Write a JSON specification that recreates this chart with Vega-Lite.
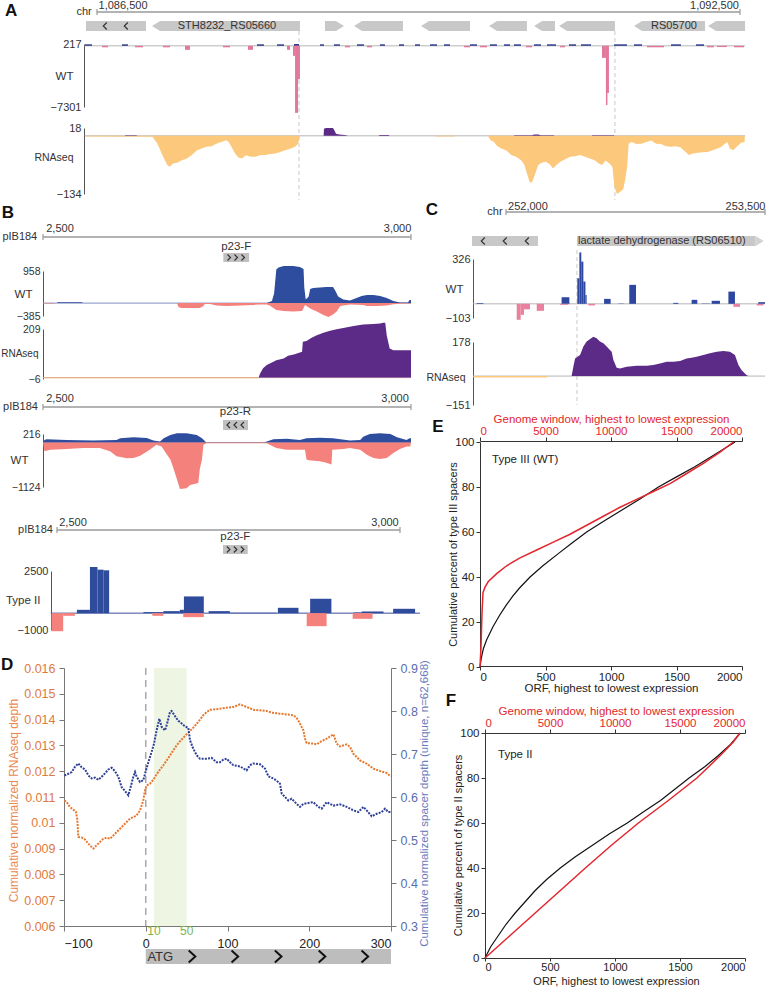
{
"$schema":"https://vega.github.io/schema/vega-lite/v6.json",
"width":771,"height":987,"autosize":"none","padding":0,"background":"white",
"config":{"view":{"stroke":null},"font":"Liberation Sans","axis":{"grid":false,"labelFont":"Liberation Sans","titleFont":"Liberation Sans","titleFontWeight":"normal","labelColor":"#222","titleColor":"#222","domainColor":"#555","tickColor":"#555"},"text":{"font":"Liberation Sans"}},
"resolve":{"scale":{"x":"independent","y":"independent","color":"independent"},"axis":{"x":"independent","y":"independent"}},
"datasets":{
"aGenes":[{"p":1086397,"e":1086957,"strand":"."},{"p":1087088,"e":1088394,"strand":"-"},{"p":1088627,"e":1088730,"strand":"+"},{"p":1088973,"e":1089355,"strand":"-"},{"p":1089598,"e":1089981,"strand":"-"},{"p":1090233,"e":1090512,"strand":"-"},{"p":1090653,"e":1090774,"strand":"-"},{"p":1090886,"e":1091333,"strand":"-"},{"p":1091586,"e":1092174,"strand":"-"},{"p":1092277,"e":1092547,"strand":"-"}],
"aWT":[{"p":1086388,"e":1086453,"v":180,"c":"n"},{"p":1086733,"e":1086789,"v":180,"c":"n"},{"p":1087993,"e":1088058,"v":180,"c":"n"},{"p":1088180,"e":1088245,"v":180,"c":"n"},{"p":1088581,"e":1088618,"v":180,"c":"n"},{"p":1088711,"e":1088767,"v":180,"c":"n"},{"p":1088926,"e":1088991,"v":180,"c":"n"},{"p":1089140,"e":1089187,"v":180,"c":"n"},{"p":1089318,"e":1089365,"v":180,"c":"n"},{"p":1089467,"e":1089514,"v":180,"c":"n"},{"p":1089607,"e":1089673,"v":180,"c":"n"},{"p":1089738,"e":1089794,"v":180,"c":"n"},{"p":1089980,"e":1090046,"v":180,"c":"n"},{"p":1090167,"e":1090232,"v":180,"c":"n"},{"p":1090298,"e":1090354,"v":180,"c":"n"},{"p":1090391,"e":1090456,"v":180,"c":"n"},{"p":1090578,"e":1090643,"v":180,"c":"n"},{"p":1090699,"e":1090783,"v":180,"c":"n"},{"p":1090904,"e":1090970,"v":180,"c":"n"},{"p":1091016,"e":1091110,"v":180,"c":"n"},{"p":1091324,"e":1091445,"v":180,"c":"n"},{"p":1091511,"e":1091586,"v":180,"c":"n"},{"p":1091856,"e":1091949,"v":180,"c":"n"},{"p":1092089,"e":1092164,"v":180,"c":"n"},{"p":1088338,"e":1088385,"v":217,"c":"n"},{"p":1086547,"e":1086603,"v":-180,"c":"p"},{"p":1086855,"e":1086929,"v":-180,"c":"p"},{"p":1087116,"e":1087181,"v":-180,"c":"p"},{"p":1087676,"e":1087741,"v":-180,"c":"p"},{"p":1088814,"e":1088861,"v":-180,"c":"p"},{"p":1089019,"e":1089066,"v":-180,"c":"p"},{"p":1089924,"e":1089980,"v":-180,"c":"p"},{"p":1090074,"e":1090139,"v":-180,"c":"p"},{"p":1090503,"e":1090559,"v":-180,"c":"p"},{"p":1090820,"e":1090867,"v":-180,"c":"p"},{"p":1091632,"e":1091791,"v":-180,"c":"p"},{"p":1092192,"e":1092257,"v":-180,"c":"p"},{"p":1092444,"e":1092537,"v":-180,"c":"p"},{"p":1087321,"e":1087368,"v":-480,"c":"p"},{"p":1087909,"e":1087956,"v":-480,"c":"p"},{"p":1088273,"e":1088301,"v":-480,"c":"p"},{"p":1088329,"e":1088348,"v":-1200,"c":"p"},{"p":1088348,"e":1088376,"v":-8000,"c":"p"},{"p":1088376,"e":1088394,"v":-4000,"c":"p"},{"p":1091212,"e":1091249,"v":-1435,"c":"p"},{"p":1091249,"e":1091277,"v":-5620,"c":"p"},{"p":1091249,"e":1091263,"v":-7060,"c":"p"},{"p":1092285,"e":1092379,"v":-150,"c":"p"}],
"aRNAneg":[{"p":1086390,"v":0,"seg":"a"},{"p":1086392,"v":-1.5,"seg":"a"},{"p":1087000,"v":-2,"seg":"a"},{"p":1087018,"v":-2,"seg":"a"},{"p":1087064,"v":-18,"seg":"a"},{"p":1087110,"v":-44,"seg":"a"},{"p":1087155,"v":-67,"seg":"a"},{"p":1087178,"v":-71,"seg":"a"},{"p":1087210,"v":-64,"seg":"a"},{"p":1087247,"v":-62,"seg":"a"},{"p":1087293,"v":-56,"seg":"a"},{"p":1087339,"v":-52,"seg":"a"},{"p":1087385,"v":-44,"seg":"a"},{"p":1087431,"v":-34,"seg":"a"},{"p":1087476,"v":-29,"seg":"a"},{"p":1087522,"v":-25,"seg":"a"},{"p":1087568,"v":-24,"seg":"a"},{"p":1087614,"v":-18,"seg":"a"},{"p":1087660,"v":-14,"seg":"a"},{"p":1087706,"v":-10,"seg":"a"},{"p":1087729,"v":-14,"seg":"a"},{"p":1087752,"v":-24,"seg":"a"},{"p":1087788,"v":-41,"seg":"a"},{"p":1087820,"v":-50,"seg":"a"},{"p":1087852,"v":-52,"seg":"a"},{"p":1087889,"v":-45,"seg":"a"},{"p":1087935,"v":-48,"seg":"a"},{"p":1087981,"v":-48,"seg":"a"},{"p":1088027,"v":-44,"seg":"a"},{"p":1088073,"v":-44,"seg":"a"},{"p":1088118,"v":-42,"seg":"a"},{"p":1088164,"v":-41,"seg":"a"},{"p":1088210,"v":-37,"seg":"a"},{"p":1088256,"v":-33,"seg":"a"},{"p":1088302,"v":-30,"seg":"a"},{"p":1088348,"v":-25,"seg":"a"},{"p":1088375,"v":-19,"seg":"a"},{"p":1088389,"v":-5,"seg":"a"},{"p":1088393,"v":0,"seg":"a"},{"p":1089654,"v":0,"seg":"b"},{"p":1089656,"v":-1.5,"seg":"b"},{"p":1089837,"v":-1.5,"seg":"b"},{"p":1089840,"v":0,"seg":"b"},{"p":1090149,"v":0,"seg":"c"},{"p":1090172,"v":-10,"seg":"c"},{"p":1090204,"v":-14,"seg":"c"},{"p":1090236,"v":-24,"seg":"c"},{"p":1090273,"v":-29,"seg":"c"},{"p":1090319,"v":-34,"seg":"c"},{"p":1090365,"v":-44,"seg":"c"},{"p":1090411,"v":-48,"seg":"c"},{"p":1090457,"v":-56,"seg":"c"},{"p":1090484,"v":-65,"seg":"c"},{"p":1090512,"v":-87,"seg":"c"},{"p":1090539,"v":-108,"seg":"c"},{"p":1090562,"v":-106,"seg":"c"},{"p":1090585,"v":-90,"seg":"c"},{"p":1090617,"v":-67,"seg":"c"},{"p":1090649,"v":-62,"seg":"c"},{"p":1090686,"v":-60,"seg":"c"},{"p":1090722,"v":-65,"seg":"c"},{"p":1090755,"v":-75,"seg":"c"},{"p":1090787,"v":-67,"seg":"c"},{"p":1090823,"v":-60,"seg":"c"},{"p":1090869,"v":-54,"seg":"c"},{"p":1090915,"v":-48,"seg":"c"},{"p":1090961,"v":-47,"seg":"c"},{"p":1091007,"v":-44,"seg":"c"},{"p":1091053,"v":-48,"seg":"c"},{"p":1091099,"v":-52,"seg":"c"},{"p":1091144,"v":-56,"seg":"c"},{"p":1091181,"v":-64,"seg":"c"},{"p":1091213,"v":-67,"seg":"c"},{"p":1091245,"v":-57,"seg":"c"},{"p":1091282,"v":-64,"seg":"c"},{"p":1091309,"v":-71,"seg":"c"},{"p":1091328,"v":-117,"seg":"c"},{"p":1091351,"v":-134,"seg":"c"},{"p":1091383,"v":-129,"seg":"c"},{"p":1091410,"v":-123,"seg":"c"},{"p":1091428,"v":-102,"seg":"c"},{"p":1091447,"v":-71,"seg":"c"},{"p":1091461,"v":-18,"seg":"c"},{"p":1091488,"v":-14,"seg":"c"},{"p":1091534,"v":-19,"seg":"c"},{"p":1091580,"v":-18,"seg":"c"},{"p":1091626,"v":-14,"seg":"c"},{"p":1091672,"v":-11,"seg":"c"},{"p":1091717,"v":-18,"seg":"c"},{"p":1091763,"v":-19,"seg":"c"},{"p":1091809,"v":-24,"seg":"c"},{"p":1091855,"v":-25,"seg":"c"},{"p":1091901,"v":-24,"seg":"c"},{"p":1091947,"v":-27,"seg":"c"},{"p":1091993,"v":-37,"seg":"c"},{"p":1092025,"v":-44,"seg":"c"},{"p":1092061,"v":-41,"seg":"c"},{"p":1092107,"v":-39,"seg":"c"},{"p":1092153,"v":-38,"seg":"c"},{"p":1092199,"v":-37,"seg":"c"},{"p":1092245,"v":-33,"seg":"c"},{"p":1092290,"v":-29,"seg":"c"},{"p":1092327,"v":-25,"seg":"c"},{"p":1092359,"v":-18,"seg":"c"},{"p":1092382,"v":-14,"seg":"c"},{"p":1092405,"v":-29,"seg":"c"},{"p":1092437,"v":-33,"seg":"c"},{"p":1092474,"v":-24,"seg":"c"},{"p":1092510,"v":-16,"seg":"c"},{"p":1092543,"v":-14,"seg":"c"},{"p":1092545,"v":0,"seg":"c"}],
"aRNApos":[{"p":1086761,"v":0,"seg":"a"},{"p":1086763,"v":1.5,"seg":"a"},{"p":1086871,"v":1.5,"seg":"a"},{"p":1086873,"v":0,"seg":"a"},{"p":1088615,"v":0,"seg":"b"},{"p":1088618,"v":16,"seg":"b"},{"p":1088637,"v":18,"seg":"b"},{"p":1088702,"v":18,"seg":"b"},{"p":1088716,"v":12,"seg":"b"},{"p":1088730,"v":5,"seg":"b"},{"p":1088760,"v":3,"seg":"b"},{"p":1088814,"v":2,"seg":"b"},{"p":1088842,"v":0,"seg":"b"},{"p":1089131,"v":0,"seg":"c"},{"p":1089135,"v":2,"seg":"c"},{"p":1089224,"v":2,"seg":"c"},{"p":1089228,"v":0,"seg":"c"},{"p":1090391,"v":0,"seg":"d"},{"p":1090393,"v":1.5,"seg":"d"},{"p":1090560,"v":1.5,"seg":"d"},{"p":1090578,"v":3,"seg":"d"},{"p":1090620,"v":3,"seg":"d"},{"p":1090640,"v":1.5,"seg":"d"},{"p":1090764,"v":1.5,"seg":"d"},{"p":1090766,"v":0,"seg":"d"},{"p":1091119,"v":0,"seg":"e"},{"p":1091121,"v":1.5,"seg":"e"},{"p":1091324,"v":1.5,"seg":"e"},{"p":1091326,"v":0,"seg":"e"}],
"b1Blue":[{"p":2500,"v":0},{"p":2519,"v":0},{"p":2520,"v":25},{"p":2553,"v":25},{"p":2554,"v":0},{"p":2804,"v":0},{"p":2811,"v":63},{"p":2814,"v":286},{"p":2817,"v":1003},{"p":2820,"v":1065},{"p":2827,"v":1110},{"p":2840,"v":1110},{"p":2849,"v":1074},{"p":2854,"v":1020},{"p":2855,"v":465},{"p":2857,"v":107},{"p":2861,"v":197},{"p":2863,"v":420},{"p":2867,"v":448},{"p":2876,"v":465},{"p":2885,"v":483},{"p":2894,"v":483},{"p":2897,"v":376},{"p":2901,"v":197},{"p":2908,"v":107},{"p":2917,"v":80},{"p":2926,"v":152},{"p":2933,"v":215},{"p":2940,"v":242},{"p":2949,"v":242},{"p":2958,"v":215},{"p":2967,"v":152},{"p":2976,"v":63},{"p":2985,"v":18},{"p":2996,"v":18},{"p":2998,"v":90},{"p":3000,"v":90}],
"b1Sal":[{"p":2500,"v":0},{"p":2501,"v":-15},{"p":2515,"v":-15},{"p":2516,"v":0},{"p":2682,"v":0},{"p":2684,"v":-116},{"p":2688,"v":-143},{"p":2713,"v":-143},{"p":2718,"v":-90},{"p":2720,"v":-20},{"p":2727,"v":-27},{"p":2736,"v":-72},{"p":2750,"v":-90},{"p":2768,"v":-72},{"p":2786,"v":-54},{"p":2795,"v":-40},{"p":2804,"v":-40},{"p":2808,"v":-72},{"p":2817,"v":-206},{"p":2827,"v":-233},{"p":2840,"v":-250},{"p":2852,"v":-233},{"p":2856,"v":-54},{"p":2863,"v":-161},{"p":2872,"v":-250},{"p":2881,"v":-358},{"p":2888,"v":-412},{"p":2894,"v":-340},{"p":2899,"v":-250},{"p":2904,"v":-90},{"p":2917,"v":-40},{"p":2935,"v":-54},{"p":2940,"v":-90},{"p":2953,"v":-90},{"p":2967,"v":-72},{"p":2976,"v":-36},{"p":2985,"v":-20},{"p":3000,"v":-10}],
"b1Pur":[{"p":2793,"v":0},{"p":2795,"v":18},{"p":2799,"v":40},{"p":2804,"v":54},{"p":2811,"v":65},{"p":2817,"v":75},{"p":2827,"v":82},{"p":2833,"v":94},{"p":2842,"v":100},{"p":2852,"v":111},{"p":2853,"v":154},{"p":2858,"v":157},{"p":2865,"v":171},{"p":2872,"v":182},{"p":2881,"v":193},{"p":2890,"v":202},{"p":2899,"v":208},{"p":2908,"v":213},{"p":2922,"v":222},{"p":2935,"v":228},{"p":2949,"v":230},{"p":2958,"v":233},{"p":2962,"v":236},{"p":2965,"v":236},{"p":2967,"v":182},{"p":2971,"v":125},{"p":2976,"v":118},{"p":3000,"v":118}],
"b1Ora":[{"p":2500,"v":0},{"p":2501,"v":-3},{"p":2792,"v":-3},{"p":2793,"v":0}],
"b2Blue":[{"p":2500,"v":0},{"p":2502,"v":66},{"p":2505,"v":83},{"p":2532,"v":66},{"p":2568,"v":50},{"p":2600,"v":66},{"p":2605,"v":107},{"p":2623,"v":132},{"p":2641,"v":116},{"p":2650,"v":50},{"p":2659,"v":25},{"p":2664,"v":107},{"p":2673,"v":190},{"p":2682,"v":232},{"p":2695,"v":232},{"p":2709,"v":190},{"p":2716,"v":107},{"p":2722,"v":0},{"p":2799,"v":0},{"p":2804,"v":25},{"p":2813,"v":83},{"p":2831,"v":99},{"p":2849,"v":66},{"p":2858,"v":107},{"p":2876,"v":124},{"p":2894,"v":107},{"p":2917,"v":50},{"p":2931,"v":66},{"p":2935,"v":149},{"p":2944,"v":215},{"p":2958,"v":232},{"p":2972,"v":215},{"p":2981,"v":132},{"p":2994,"v":66},{"p":2998,"v":107},{"p":3000,"v":107}],
"b2Sal":[{"p":2500,"v":0},{"p":2502,"v":-223},{"p":2510,"v":-182},{"p":2532,"v":-165},{"p":2555,"v":-141},{"p":2577,"v":-141},{"p":2591,"v":-223},{"p":2600,"v":-347},{"p":2614,"v":-397},{"p":2623,"v":-389},{"p":2632,"v":-331},{"p":2645,"v":-182},{"p":2654,"v":-58},{"p":2661,"v":-99},{"p":2673,"v":-430},{"p":2677,"v":-637},{"p":2684,"v":-1050},{"p":2686,"v":-1174},{"p":2695,"v":-1157},{"p":2700,"v":-1075},{"p":2711,"v":-1025},{"p":2713,"v":-678},{"p":2716,"v":-430},{"p":2718,"v":-58},{"p":2722,"v":-17},{"p":2759,"v":-17},{"p":2804,"v":-17},{"p":2808,"v":-58},{"p":2817,"v":-141},{"p":2831,"v":-182},{"p":2856,"v":-182},{"p":2858,"v":-430},{"p":2861,"v":-447},{"p":2876,"v":-471},{"p":2885,"v":-513},{"p":2892,"v":-554},{"p":2893,"v":-182},{"p":2908,"v":-165},{"p":2917,"v":-141},{"p":2931,"v":-182},{"p":2940,"v":-306},{"p":2949,"v":-389},{"p":2958,"v":-414},{"p":2967,"v":-389},{"p":2976,"v":-265},{"p":2985,"v":-165},{"p":2994,"v":-99},{"p":2999,"v":-99},{"p":3000,"v":0}],
"b3":[{"p":2529,"e":2548,"v":198,"c":"n"},{"p":2548,"e":2559,"v":2738,"c":"n"},{"p":2559,"e":2568,"v":2579,"c":"n"},{"p":2568,"e":2576,"v":2540,"c":"n"},{"p":2626,"e":2655,"v":60,"c":"n"},{"p":2655,"e":2679,"v":119,"c":"n"},{"p":2679,"e":2685,"v":198,"c":"n"},{"p":2685,"e":2714,"v":992,"c":"n"},{"p":2721,"e":2752,"v":119,"c":"n"},{"p":2752,"e":2820,"v":20,"c":"n"},{"p":2822,"e":2852,"v":317,"c":"n"},{"p":2869,"e":2900,"v":853,"c":"n"},{"p":2932,"e":2944,"v":40,"c":"n"},{"p":2944,"e":2976,"v":99,"c":"n"},{"p":2990,"e":3022,"v":258,"c":"n"},{"p":2492,"e":2509,"v":-1071,"c":"p"},{"p":2509,"e":2526,"v":-159,"c":"p"},{"p":2639,"e":2655,"v":-159,"c":"p"},{"p":2684,"e":2714,"v":-238,"c":"p"},{"p":2864,"e":2893,"v":-774,"c":"p"},{"p":2931,"e":2960,"v":-337,"c":"p"}],
"cGenes":[{"p":251803,"e":252185,"strand":"."},{"p":252411,"e":253446,"strand":"+"}],
"cWT":[{"p":251830,"e":251869,"v":5,"c":"n"},{"p":252322,"e":252367,"v":48,"c":"n"},{"p":252413,"e":252425,"v":186,"c":"n"},{"p":252425,"e":252436,"v":374,"c":"n"},{"p":252436,"e":252448,"v":307,"c":"n"},{"p":252448,"e":252460,"v":162,"c":"n"},{"p":252460,"e":252467,"v":65,"c":"n"},{"p":252568,"e":252606,"v":36,"c":"n"},{"p":252651,"e":252683,"v":2,"c":"n"},{"p":252714,"e":252753,"v":138,"c":"n"},{"p":252969,"e":252998,"v":7,"c":"n"},{"p":253075,"e":253108,"v":29,"c":"n"},{"p":253133,"e":253181,"v":2,"c":"n"},{"p":253191,"e":253239,"v":22,"c":"n"},{"p":253288,"e":253326,"v":89,"c":"n"},{"p":253461,"e":253500,"v":12,"c":"n"},{"p":252062,"e":252085,"v":-116,"c":"p"},{"p":252085,"e":252104,"v":-80,"c":"p"},{"p":252104,"e":252139,"v":-40,"c":"p"},{"p":252178,"e":252220,"v":-51,"c":"p"},{"p":252313,"e":252361,"v":-7,"c":"p"},{"p":252477,"e":252515,"v":-12,"c":"p"},{"p":253317,"e":253355,"v":-22,"c":"p"},{"p":253452,"e":253490,"v":-12,"c":"p"}],
"cPur":[{"p":252380,"v":0},{"p":252390,"v":49},{"p":252400,"v":92},{"p":252429,"v":110},{"p":252448,"v":154},{"p":252467,"v":180},{"p":252487,"v":194},{"p":252506,"v":206},{"p":252525,"v":197},{"p":252544,"v":180},{"p":252564,"v":171},{"p":252583,"v":154},{"p":252602,"v":136},{"p":252612,"v":127},{"p":252622,"v":84},{"p":252641,"v":44},{"p":252660,"v":40},{"p":252699,"v":49},{"p":252757,"v":54},{"p":252815,"v":54},{"p":252853,"v":58},{"p":252892,"v":66},{"p":252931,"v":75},{"p":252969,"v":75},{"p":253008,"v":79},{"p":253046,"v":92},{"p":253075,"v":96},{"p":253104,"v":101},{"p":253143,"v":110},{"p":253181,"v":119},{"p":253220,"v":127},{"p":253259,"v":131},{"p":253297,"v":127},{"p":253326,"v":110},{"p":253346,"v":58},{"p":253365,"v":31},{"p":253394,"v":5},{"p":253404,"v":0}],
"cOra":[{"p":251811,"v":0},{"p":251813,"v":-8},{"p":252236,"v":-8},{"p":252238,"v":0}],
"dOr":[{"p":-99.6,"v":0.01087},{"p":-96.8,"v":0.01081},{"p":-92.7,"v":0.01061},{"p":-88.6,"v":0.01051},{"p":-85.3,"v":0.01042},{"p":-83.7,"v":0.01012},{"p":-82.5,"v":0.00945},{"p":-78.4,"v":0.00943},{"p":-74.3,"v":0.00935},{"p":-70.2,"v":0.00919},{"p":-66.2,"v":0.00906},{"p":-64.1,"v":0.009},{"p":-60.1,"v":0.00913},{"p":-56,"v":0.00926},{"p":-51.9,"v":0.00938},{"p":-47.8,"v":0.00942},{"p":-43.7,"v":0.00938},{"p":-39.7,"v":0.00951},{"p":-35.6,"v":0.00964},{"p":-31.5,"v":0.00977},{"p":-27.4,"v":0.0099},{"p":-23.4,"v":0.01003},{"p":-19.3,"v":0.01016},{"p":-15.2,"v":0.01022},{"p":-11.1,"v":0.01029},{"p":-7,"v":0.01048},{"p":-3,"v":0.01087},{"p":-0.9,"v":0.01126},{"p":1.1,"v":0.01145},{"p":5.2,"v":0.01152},{"p":9.3,"v":0.01167},{"p":13.3,"v":0.01188},{"p":17.4,"v":0.01206},{"p":21.5,"v":0.01223},{"p":25.6,"v":0.01242},{"p":29.7,"v":0.01261},{"p":33.7,"v":0.01281},{"p":37.8,"v":0.013},{"p":41.9,"v":0.01316},{"p":46,"v":0.0133},{"p":50,"v":0.01343},{"p":54.1,"v":0.01356},{"p":58.2,"v":0.01369},{"p":62.3,"v":0.01384},{"p":66.4,"v":0.014},{"p":70.4,"v":0.01417},{"p":74.5,"v":0.01429},{"p":78.6,"v":0.01438},{"p":82.7,"v":0.01439},{"p":90.8,"v":0.01442},{"p":99,"v":0.01446},{"p":107.1,"v":0.01449},{"p":115.3,"v":0.01459},{"p":123.4,"v":0.01449},{"p":131.6,"v":0.01438},{"p":139.8,"v":0.01436},{"p":147.9,"v":0.01433},{"p":156.1,"v":0.01426},{"p":164.2,"v":0.01423},{"p":172.4,"v":0.0142},{"p":180.5,"v":0.01417},{"p":184.6,"v":0.01407},{"p":188.7,"v":0.01384},{"p":192.8,"v":0.01358},{"p":194.8,"v":0.01326},{"p":196.8,"v":0.01309},{"p":205,"v":0.01307},{"p":209.1,"v":0.01304},{"p":213.1,"v":0.01313},{"p":221.3,"v":0.01326},{"p":229.5,"v":0.01343},{"p":233.5,"v":0.01307},{"p":237.6,"v":0.01296},{"p":245.8,"v":0.01304},{"p":249.9,"v":0.01294},{"p":253.9,"v":0.01268},{"p":262.1,"v":0.01242},{"p":270.2,"v":0.01229},{"p":278.4,"v":0.0121},{"p":286.5,"v":0.01201},{"p":294.7,"v":0.01193},{"p":299.6,"v":0.0118}],
"dBl":[{"p":-99.6,"v":0.65},{"p":-94.7,"v":0.654},{"p":-90.6,"v":0.658},{"p":-86.6,"v":0.67},{"p":-82.5,"v":0.678},{"p":-78.4,"v":0.669},{"p":-74.3,"v":0.664},{"p":-70.2,"v":0.65},{"p":-66.2,"v":0.643},{"p":-62.1,"v":0.645},{"p":-58,"v":0.64},{"p":-53.9,"v":0.647},{"p":-49.9,"v":0.655},{"p":-45.8,"v":0.664},{"p":-41.7,"v":0.668},{"p":-37.6,"v":0.66},{"p":-33.5,"v":0.647},{"p":-29.5,"v":0.623},{"p":-25.4,"v":0.614},{"p":-21.3,"v":0.604},{"p":-18.5,"v":0.623},{"p":-15.2,"v":0.647},{"p":-13.1,"v":0.658},{"p":-11.1,"v":0.647},{"p":-7,"v":0.635},{"p":-3,"v":0.639},{"p":0.3,"v":0.662},{"p":3.2,"v":0.681},{"p":7.2,"v":0.705},{"p":10.1,"v":0.724},{"p":13.3,"v":0.755},{"p":16.6,"v":0.782},{"p":19.5,"v":0.763},{"p":23.5,"v":0.755},{"p":25.6,"v":0.767},{"p":29.7,"v":0.798},{"p":31.7,"v":0.8},{"p":35.8,"v":0.788},{"p":39.9,"v":0.777},{"p":44,"v":0.771},{"p":48,"v":0.764},{"p":52.1,"v":0.761},{"p":54.1,"v":0.732},{"p":58.2,"v":0.712},{"p":62.3,"v":0.697},{"p":66.4,"v":0.689},{"p":74.5,"v":0.689},{"p":80.6,"v":0.691},{"p":86.7,"v":0.681},{"p":90.8,"v":0.681},{"p":94.9,"v":0.687},{"p":99,"v":0.689},{"p":103.1,"v":0.681},{"p":107.1,"v":0.674},{"p":115.3,"v":0.671},{"p":123.4,"v":0.662},{"p":127.5,"v":0.674},{"p":131.6,"v":0.678},{"p":139.8,"v":0.676},{"p":145.9,"v":0.666},{"p":150,"v":0.648},{"p":156.1,"v":0.643},{"p":160.1,"v":0.638},{"p":164.2,"v":0.631},{"p":166.3,"v":0.608},{"p":170.3,"v":0.6},{"p":174.4,"v":0.592},{"p":178.5,"v":0.596},{"p":184.6,"v":0.584},{"p":188.7,"v":0.577},{"p":192.8,"v":0.584},{"p":198.9,"v":0.586},{"p":205,"v":0.588},{"p":211.1,"v":0.577},{"p":215.2,"v":0.573},{"p":221.3,"v":0.588},{"p":225.4,"v":0.584},{"p":229.5,"v":0.58},{"p":237.6,"v":0.583},{"p":245.8,"v":0.577},{"p":253.9,"v":0.569},{"p":260,"v":0.565},{"p":266.2,"v":0.577},{"p":270.2,"v":0.569},{"p":276.4,"v":0.555},{"p":282.5,"v":0.561},{"p":288.6,"v":0.565},{"p":292.7,"v":0.573},{"p":296.7,"v":0.565},{"p":299.6,"v":0.565}],
"eBlack":[{"orf":0,"pct":0},{"orf":10,"pct":4},{"orf":25,"pct":8},{"orf":50,"pct":12},{"orf":100,"pct":18},{"orf":150,"pct":23},{"orf":200,"pct":27.5},{"orf":250,"pct":31.5},{"orf":300,"pct":35},{"orf":382,"pct":40},{"orf":480,"pct":45},{"orf":600,"pct":50.5},{"orf":700,"pct":55},{"orf":814,"pct":60},{"orf":950,"pct":65},{"orf":1090,"pct":70},{"orf":1230,"pct":75},{"orf":1362,"pct":80},{"orf":1500,"pct":84.5},{"orf":1640,"pct":89},{"orf":1780,"pct":94},{"orf":1947,"pct":100}],
"eRed":[{"gw":0,"pct":0},{"gw":76,"pct":9},{"gw":153,"pct":24},{"gw":229,"pct":33},{"gw":382,"pct":35.5},{"gw":636,"pct":38},{"gw":1273,"pct":41.5},{"gw":2036,"pct":45},{"gw":3054,"pct":48.5},{"gw":4327,"pct":52},{"gw":5599,"pct":55.5},{"gw":6872,"pct":59},{"gw":8144,"pct":63},{"gw":9417,"pct":67},{"gw":10689,"pct":71},{"gw":11962,"pct":74.5},{"gw":13234,"pct":78},{"gw":14507,"pct":81.5},{"gw":15779,"pct":86},{"gw":17052,"pct":90.5},{"gw":18324,"pct":95.5},{"gw":19342,"pct":100}],
"fBlack":[{"orf":0,"pct":0},{"orf":44,"pct":5},{"orf":103,"pct":10},{"orf":162,"pct":15},{"orf":232,"pct":20},{"orf":309,"pct":25},{"orf":386,"pct":30},{"orf":476,"pct":35},{"orf":579,"pct":40},{"orf":695,"pct":45},{"orf":824,"pct":50},{"orf":952,"pct":55},{"orf":1094,"pct":60},{"orf":1220,"pct":65},{"orf":1350,"pct":70},{"orf":1460,"pct":75},{"orf":1570,"pct":80},{"orf":1690,"pct":85},{"orf":1795,"pct":90},{"orf":1890,"pct":95},{"orf":1964,"pct":100}],
"fRed":[{"gw":0,"pct":0},{"gw":1931,"pct":10},{"gw":3861,"pct":20},{"gw":5792,"pct":30},{"gw":7722,"pct":40},{"gw":9704,"pct":50},{"gw":11800,"pct":60},{"gw":14100,"pct":70},{"gw":16300,"pct":80},{"gw":18100,"pct":90},{"gw":19100,"pct":96},{"gw":19600,"pct":100}]
},
"layer":[
{"data":{"values":[{"s":1086500,"e":1092500}]},"mark":{"type":"rule","color":"#9a9a9a","strokeWidth":1.5},"encoding":{"x":{"field":"s","type":"quantitative","scale":{"domain":[1086500,1092500],"range":[97,740]},"axis":null},"x2":{"field":"e"},"y":{"datum":7.333,"type":"quantitative","scale":{"domain":[0,10],"range":[34,4]},"axis":null}}},
{"data":{"values":[{"s":1086500},{"s":1092500}]},"mark":{"type":"rule","color":"#9a9a9a","strokeWidth":1.2},"encoding":{"x":{"field":"s","type":"quantitative","scale":{"domain":[1086500,1092500],"range":[97,740]},"axis":null},"y":{"datum":8.333,"type":"quantitative","scale":{"domain":[0,10],"range":[34,4]},"axis":null},"y2":{"datum":6.333}}},
{"data":{"values":[{"s":1086743,"t":"1,086,500"},{"s":1092262,"t":"1,092,500"}]},"mark":{"type":"text","fontSize":11,"color":"#333"},"encoding":{"x":{"field":"s","type":"quantitative","scale":{"domain":[1086500,1092500],"range":[97,740]},"axis":null},"y":{"datum":9.333,"type":"quantitative","scale":{"domain":[0,10],"range":[34,4]},"axis":null},"text":{"field":"t"}}},
{"data":{"values":[{"s":1086379,"t":"chr"}]},"mark":{"type":"text","fontSize":11,"color":"#333"},"encoding":{"x":{"field":"s","type":"quantitative","scale":{"domain":[1086500,1092500],"range":[97,740]},"axis":null},"y":{"datum":7.333,"type":"quantitative","scale":{"domain":[0,10],"range":[34,4]},"axis":null},"text":{"field":"t"}}},
{"data":{"values":[{"s":1085698,"t":"A"}]},"mark":{"type":"text","fontSize":17,"fontWeight":"bold","color":"#111"},"encoding":{"x":{"field":"s","type":"quantitative","scale":{"domain":[1086500,1092500],"range":[97,740]},"axis":null},"y":{"datum":7.667,"type":"quantitative","scale":{"domain":[0,10],"range":[34,4]},"axis":null},"text":{"field":"t"}}},
{"data":{"name":"aGenes"},"mark":{"type":"rect","color":"#c8c8c8"},"encoding":{"x":{"field":"p","type":"quantitative","scale":{"domain":[1086500,1092500],"range":[97,740]},"axis":null},"x2":{"field":"e"},"y":{"datum":4.333,"type":"quantitative","scale":{"domain":[0,10],"range":[34,4]},"axis":null},"y2":{"datum":1}}},
{"data":{"name":"aGenes"},"transform":[{"filter":"datum.strand === '-'"}],"mark":{"type":"point","shape":"M0,-1L-1.6,0L0,1Z","size":100,"filled":true,"color":"#c8c8c8","opacity":1,"strokeWidth":0},"encoding":{"x":{"field":"p","type":"quantitative","scale":{"domain":[1086500,1092500],"range":[97,740]},"axis":null},"y":{"datum":2.667,"type":"quantitative","scale":{"domain":[0,10],"range":[34,4]},"axis":null}}},
{"data":{"name":"aGenes"},"transform":[{"filter":"datum.strand === '+'"}],"mark":{"type":"point","shape":"M0,-1L1.6,0L0,1Z","size":100,"filled":true,"color":"#c8c8c8","opacity":1,"strokeWidth":0},"encoding":{"x":{"field":"e","type":"quantitative","scale":{"domain":[1086500,1092500],"range":[97,740]},"axis":null},"y":{"datum":2.667,"type":"quantitative","scale":{"domain":[0,10],"range":[34,4]},"axis":null}}},
{"data":{"values":[{"s":1087713,"t":"STH8232_RS05660"},{"s":1091884,"t":"RS05700"}]},"mark":{"type":"text","fontSize":11,"color":"#333"},"encoding":{"x":{"field":"s","type":"quantitative","scale":{"domain":[1086500,1092500],"range":[97,740]},"axis":null},"y":{"datum":2.667,"type":"quantitative","scale":{"domain":[0,10],"range":[34,4]},"axis":null},"text":{"field":"t"}}},
{"data":{"values":[{"s":1086575},{"s":1086771}]},"mark":{"type":"point","shape":"M0.5,-1L-0.5,0L0.5,1","size":49,"filled":false,"color":"#333","opacity":1,"strokeWidth":1.2},"encoding":{"x":{"field":"s","type":"quantitative","scale":{"domain":[1086500,1092500],"range":[97,740]},"axis":null},"y":{"datum":2.667,"type":"quantitative","scale":{"domain":[0,10],"range":[34,4]},"axis":null}}},
{"data":{"values":[{"s":1088385},{"s":1091333}]},"mark":{"type":"rule","color":"#c8c8c8","strokeWidth":1,"strokeDash":[4,3]},"encoding":{"x":{"field":"s","type":"quantitative","scale":{"domain":[1086500,1092500],"range":[97,740]},"axis":null},"y":{"datum":1,"type":"quantitative","scale":{"domain":[0,10],"range":[34,4]},"axis":null},"y2":{"datum":-55.33}}},
{"data":{"values":[{"s":1086385,"e":1092547}]},"mark":{"type":"rule","color":"#b5b5b5","strokeWidth":1},"encoding":{"x":{"field":"s","type":"quantitative","scale":{"domain":[1086500,1092500],"range":[97,740]},"axis":null},"x2":{"field":"e"},"y":{"datum":0,"type":"quantitative","scale":{"domain":[-7301,217],"range":[107,44]},"axis":{"orient":"left","offset":-84,"values":[217,-7301],"format":"d","ticks":false,"tickSize":0,"labelPadding":3,"labelFontSize":11,"labelColor":"#333","domainColor":"#555","title":"WT","titleAngle":0,"titleAlign":"right","titleBaseline":"middle","titleX":-11,"titleY":76,"titleFontSize":11.5,"titleColor":"#333"}}}},
{"data":{"name":"aWT"},"mark":{"type":"rect"},"encoding":{"x":{"field":"p","type":"quantitative","scale":{"domain":[1086500,1092500],"range":[97,740]},"axis":null},"x2":{"field":"e"},"y":{"field":"v","type":"quantitative","scale":{"domain":[-7301,217],"range":[107,44]},"axis":null},"y2":{"datum":0},"color":{"field":"c","type":"nominal","scale":{"domain":["n","p"],"range":["#2d3a8c","#e2799c"]},"legend":null}}},
{"data":{"values":[{"s":1086385,"e":1092547}]},"mark":{"type":"rule","color":"#b5b5b5","strokeWidth":1},"encoding":{"x":{"field":"s","type":"quantitative","scale":{"domain":[1086500,1092500],"range":[97,740]},"axis":null},"x2":{"field":"e"},"y":{"datum":0,"type":"quantitative","scale":{"domain":[-134,18],"range":[194,128]},"axis":{"orient":"left","offset":-84,"values":[18,-134],"format":"d","ticks":false,"tickSize":0,"labelPadding":3,"labelFontSize":11,"labelColor":"#333","domainColor":"#555","title":"RNAseq","titleAngle":0,"titleAlign":"right","titleBaseline":"middle","titleX":-11,"titleY":157,"titleFontSize":10.5,"titleColor":"#333"}}}},
{"data":{"name":"aRNAneg"},"mark":{"type":"area","color":"#fbc87c"},"encoding":{"x":{"field":"p","type":"quantitative","scale":{"domain":[1086500,1092500],"range":[97,740]},"axis":null},"y":{"field":"v","type":"quantitative","scale":{"domain":[-134,18],"range":[194,128]},"axis":null,"stack":null},"y2":{"datum":0},"detail":{"field":"seg"}}},
{"data":{"name":"aRNApos"},"mark":{"type":"area","color":"#5c2b88"},"encoding":{"x":{"field":"p","type":"quantitative","scale":{"domain":[1086500,1092500],"range":[97,740]},"axis":null},"y":{"field":"v","type":"quantitative","scale":{"domain":[-134,18],"range":[194,128]},"axis":null,"stack":null},"y2":{"datum":0},"detail":{"field":"seg"}}},

{"data":{"values":[{"s":2452.4,"t":"B"}]},"mark":{"type":"text","fontSize":17,"fontWeight":"bold","color":"#111"},"encoding":{"x":{"field":"s","type":"quantitative","scale":{"domain":[2500,3000],"range":[43,411]},"axis":null},"y":{"datum":11.4,"type":"quantitative","scale":{"domain":[0,10],"range":[270,220]},"axis":null},"text":{"field":"t"}}},
{"data":{"values":[{"s":2500,"e":3000}]},"mark":{"type":"rule","color":"#9a9a9a","strokeWidth":1.5},"encoding":{"x":{"field":"s","type":"quantitative","scale":{"domain":[2500,3000],"range":[43,411]},"axis":null},"x2":{"field":"e"},"y":{"datum":6.6,"type":"quantitative","scale":{"domain":[0,10],"range":[270,220]},"axis":null}}},
{"data":{"values":[{"s":2500},{"s":3000}]},"mark":{"type":"rule","color":"#9a9a9a","strokeWidth":1.2},"encoding":{"x":{"field":"s","type":"quantitative","scale":{"domain":[2500,3000],"range":[43,411]},"axis":null},"y":{"datum":7.2,"type":"quantitative","scale":{"domain":[0,10],"range":[270,220]},"axis":null},"y2":{"datum":6.0}}},
{"data":{"values":[{"s":2523.1,"t":"2,500"},{"s":2981.7,"t":"3,000"}]},"mark":{"type":"text","fontSize":11,"color":"#333"},"encoding":{"x":{"field":"s","type":"quantitative","scale":{"domain":[2500,3000],"range":[43,411]},"axis":null},"y":{"datum":8.2,"type":"quantitative","scale":{"domain":[0,10],"range":[270,220]},"axis":null},"text":{"field":"t"}}},
{"data":{"values":[{"s":2468.5,"t":"pIB184"}]},"mark":{"type":"text","fontSize":11,"color":"#333"},"encoding":{"x":{"field":"s","type":"quantitative","scale":{"domain":[2500,3000],"range":[43,411]},"axis":null},"y":{"datum":6.6,"type":"quantitative","scale":{"domain":[0,10],"range":[270,220]},"axis":null},"text":{"field":"t"}}},
{"data":{"values":[{"s":2745,"e":2780}]},"mark":{"type":"rect","color":"#c0c0c0"},"encoding":{"x":{"field":"s","type":"quantitative","scale":{"domain":[2500,3000],"range":[43,411]},"axis":null},"x2":{"field":"e"},"y":{"datum":3.4,"type":"quantitative","scale":{"domain":[0,10],"range":[270,220]},"axis":null},"y2":{"datum":1.6}}},
{"data":{"values":[{"s":2762.5,"t":"p23-F"}]},"mark":{"type":"text","fontSize":11.5,"color":"#333","dy":-1},"encoding":{"x":{"field":"s","type":"quantitative","scale":{"domain":[2500,3000],"range":[43,411]},"axis":null},"y":{"datum":4.4,"type":"quantitative","scale":{"domain":[0,10],"range":[270,220]},"axis":null},"text":{"field":"t"}}},
{"data":{"values":[{"s":2752.7},{"s":2762.2},{"s":2771.7}]},"mark":{"type":"point","shape":"M-0.5,-1L0.5,0L-0.5,1","size":36,"filled":false,"color":"#333","opacity":1,"strokeWidth":1.2},"encoding":{"x":{"field":"s","type":"quantitative","scale":{"domain":[2500,3000],"range":[43,411]},"axis":null},"y":{"datum":2.5,"type":"quantitative","scale":{"domain":[0,10],"range":[270,220]},"axis":null}}},
{"data":{"values":[{"s":2500,"e":3000}]},"mark":{"type":"rule","color":"#8090c0","strokeWidth":1},"encoding":{"x":{"field":"s","type":"quantitative","scale":{"domain":[2500,3000],"range":[43,411]},"axis":null},"x2":{"field":"e"},"y":{"datum":0,"type":"quantitative","scale":{"domain":[-385,958],"range":[316,271]},"axis":{"orient":"left","offset":-43,"values":[958,-385],"format":"d","ticks":false,"tickSize":0,"labelPadding":3,"labelFontSize":10.5,"labelColor":"#333","domainColor":"#555","title":"WT","titleAngle":0,"titleAlign":"right","titleBaseline":"middle","titleX":-11,"titleY":294,"titleFontSize":11.5,"titleColor":"#333"}}}},
{"data":{"name":"b1Blue"},"mark":{"type":"area","color":"#2f4d9e"},"encoding":{"x":{"field":"p","type":"quantitative","scale":{"domain":[2500,3000],"range":[43,411]},"axis":null},"y":{"field":"v","type":"quantitative","scale":{"domain":[-385,958],"range":[316,271]},"axis":null,"stack":null},"y2":{"datum":0}}},
{"data":{"name":"b1Sal"},"mark":{"type":"area","color":"#f4817c"},"encoding":{"x":{"field":"p","type":"quantitative","scale":{"domain":[2500,3000],"range":[43,411]},"axis":null},"y":{"field":"v","type":"quantitative","scale":{"domain":[-385,958],"range":[316,271]},"axis":null,"stack":null},"y2":{"datum":0}}},
{"data":{"values":[{"s":2500,"e":3000}]},"mark":{"type":"rule","color":"#c9a0a0","strokeWidth":1},"encoding":{"x":{"field":"s","type":"quantitative","scale":{"domain":[2500,3000],"range":[43,411]},"axis":null},"x2":{"field":"e"},"y":{"datum":0,"type":"quantitative","scale":{"domain":[-6,209],"range":[379,329]},"axis":{"orient":"left","offset":-43,"values":[209,-6],"format":"d","ticks":false,"tickSize":0,"labelPadding":3,"labelFontSize":10.5,"labelColor":"#333","domainColor":"#555","title":"RNAseq","titleAngle":0,"titleAlign":"right","titleBaseline":"middle","titleX":-5,"titleY":353,"titleFontSize":10,"titleColor":"#333"}}}},
{"data":{"name":"b1Ora"},"mark":{"type":"area","color":"#f6b56a"},"encoding":{"x":{"field":"p","type":"quantitative","scale":{"domain":[2500,3000],"range":[43,411]},"axis":null},"y":{"field":"v","type":"quantitative","scale":{"domain":[-6,209],"range":[379,329]},"axis":null,"stack":null},"y2":{"datum":0}}},
{"data":{"name":"b1Pur"},"mark":{"type":"area","color":"#5c2b88"},"encoding":{"x":{"field":"p","type":"quantitative","scale":{"domain":[2500,3000],"range":[43,411]},"axis":null},"y":{"field":"v","type":"quantitative","scale":{"domain":[-6,209],"range":[379,329]},"axis":null,"stack":null},"y2":{"datum":0}}},

{"data":{"values":[{"s":2500,"e":3000}]},"mark":{"type":"rule","color":"#9a9a9a","strokeWidth":1.5},"encoding":{"x":{"field":"s","type":"quantitative","scale":{"domain":[2500,3000],"range":[43,411]},"axis":null},"x2":{"field":"e"},"y":{"datum":6.6,"type":"quantitative","scale":{"domain":[0,10],"range":[440,390]},"axis":null}}},
{"data":{"values":[{"s":2500},{"s":3000}]},"mark":{"type":"rule","color":"#9a9a9a","strokeWidth":1.2},"encoding":{"x":{"field":"s","type":"quantitative","scale":{"domain":[2500,3000],"range":[43,411]},"axis":null},"y":{"datum":7.2,"type":"quantitative","scale":{"domain":[0,10],"range":[440,390]},"axis":null},"y2":{"datum":6.0}}},
{"data":{"values":[{"s":2523.1,"t":"2,500"},{"s":2978.3,"t":"3,000"}]},"mark":{"type":"text","fontSize":11,"color":"#333"},"encoding":{"x":{"field":"s","type":"quantitative","scale":{"domain":[2500,3000],"range":[43,411]},"axis":null},"y":{"datum":8.2,"type":"quantitative","scale":{"domain":[0,10],"range":[440,390]},"axis":null},"text":{"field":"t"}}},
{"data":{"values":[{"s":2469.4,"t":"pIB184"}]},"mark":{"type":"text","fontSize":11,"color":"#333"},"encoding":{"x":{"field":"s","type":"quantitative","scale":{"domain":[2500,3000],"range":[43,411]},"axis":null},"y":{"datum":6.6,"type":"quantitative","scale":{"domain":[0,10],"range":[440,390]},"axis":null},"text":{"field":"t"}}},
{"data":{"values":[{"s":2744.6,"e":2778.5}]},"mark":{"type":"rect","color":"#c0c0c0"},"encoding":{"x":{"field":"s","type":"quantitative","scale":{"domain":[2500,3000],"range":[43,411]},"axis":null},"x2":{"field":"e"},"y":{"datum":4,"type":"quantitative","scale":{"domain":[0,10],"range":[440,390]},"axis":null},"y2":{"datum":2}}},
{"data":{"values":[{"s":2761.5,"t":"p23-R"}]},"mark":{"type":"text","fontSize":11.5,"color":"#333","dy":-1},"encoding":{"x":{"field":"s","type":"quantitative","scale":{"domain":[2500,3000],"range":[43,411]},"axis":null},"y":{"datum":5.4,"type":"quantitative","scale":{"domain":[0,10],"range":[440,390]},"axis":null},"text":{"field":"t"}}},
{"data":{"values":[{"s":2752},{"s":2761.5},{"s":2771}]},"mark":{"type":"point","shape":"M0.5,-1L-0.5,0L0.5,1","size":36,"filled":false,"color":"#333","opacity":1,"strokeWidth":1.2},"encoding":{"x":{"field":"s","type":"quantitative","scale":{"domain":[2500,3000],"range":[43,411]},"axis":null},"y":{"datum":3,"type":"quantitative","scale":{"domain":[0,10],"range":[440,390]},"axis":null}}},
{"data":{"values":[{"s":2500,"e":3000}]},"mark":{"type":"rule","color":"#8090c0","strokeWidth":1},"encoding":{"x":{"field":"s","type":"quantitative","scale":{"domain":[2500,3000],"range":[43,411]},"axis":null},"x2":{"field":"e"},"y":{"datum":0,"type":"quantitative","scale":{"domain":[-1124,216],"range":[487,434]},"axis":{"orient":"left","offset":-43,"values":[216,-1124],"format":"d","ticks":false,"tickSize":0,"labelPadding":3,"labelFontSize":10.5,"labelColor":"#333","domainColor":"#555","title":"WT","titleAngle":0,"titleAlign":"right","titleBaseline":"middle","titleX":-15,"titleY":460,"titleFontSize":11.5,"titleColor":"#333"}}}},
{"data":{"name":"b2Blue"},"mark":{"type":"area","color":"#2f4d9e"},"encoding":{"x":{"field":"p","type":"quantitative","scale":{"domain":[2500,3000],"range":[43,411]},"axis":null},"y":{"field":"v","type":"quantitative","scale":{"domain":[-1124,216],"range":[487,434]},"axis":null,"stack":null},"y2":{"datum":0}}},
{"data":{"name":"b2Sal"},"mark":{"type":"area","color":"#f4817c"},"encoding":{"x":{"field":"p","type":"quantitative","scale":{"domain":[2500,3000],"range":[43,411]},"axis":null},"y":{"field":"v","type":"quantitative","scale":{"domain":[-1124,216],"range":[487,434]},"axis":null,"stack":null},"y2":{"datum":0}}},

{"data":{"values":[{"s":2500,"e":3000}]},"mark":{"type":"rule","color":"#9a9a9a","strokeWidth":1.5},"encoding":{"x":{"field":"s","type":"quantitative","scale":{"domain":[2500,3000],"range":[57,400]},"axis":null},"x2":{"field":"e"},"y":{"datum":7,"type":"quantitative","scale":{"domain":[0,10],"range":[565,515]},"axis":null}}},
{"data":{"values":[{"s":2500},{"s":3000}]},"mark":{"type":"rule","color":"#9a9a9a","strokeWidth":1.2},"encoding":{"x":{"field":"s","type":"quantitative","scale":{"domain":[2500,3000],"range":[57,400]},"axis":null},"y":{"datum":7.6,"type":"quantitative","scale":{"domain":[0,10],"range":[565,515]},"axis":null},"y2":{"datum":6.4}}},
{"data":{"values":[{"s":2523.3,"t":"2,500"},{"s":2978.1,"t":"3,000"}]},"mark":{"type":"text","fontSize":11,"color":"#333"},"encoding":{"x":{"field":"s","type":"quantitative","scale":{"domain":[2500,3000],"range":[57,400]},"axis":null},"y":{"datum":8.4,"type":"quantitative","scale":{"domain":[0,10],"range":[565,515]},"axis":null},"text":{"field":"t"}}},
{"data":{"values":[{"s":2468.7,"t":"pIB184"}]},"mark":{"type":"text","fontSize":11,"color":"#333"},"encoding":{"x":{"field":"s","type":"quantitative","scale":{"domain":[2500,3000],"range":[57,400]},"axis":null},"y":{"datum":7,"type":"quantitative","scale":{"domain":[0,10],"range":[565,515]},"axis":null},"text":{"field":"t"}}},
{"data":{"values":[{"s":2742,"e":2778}]},"mark":{"type":"rect","color":"#c0c0c0"},"encoding":{"x":{"field":"s","type":"quantitative","scale":{"domain":[2500,3000],"range":[57,400]},"axis":null},"x2":{"field":"e"},"y":{"datum":4,"type":"quantitative","scale":{"domain":[0,10],"range":[565,515]},"axis":null},"y2":{"datum":2.2}}},
{"data":{"values":[{"s":2760,"t":"p23-F"}]},"mark":{"type":"text","fontSize":11.5,"color":"#333","dy":-1},"encoding":{"x":{"field":"s","type":"quantitative","scale":{"domain":[2500,3000],"range":[57,400]},"axis":null},"y":{"datum":5.4,"type":"quantitative","scale":{"domain":[0,10],"range":[565,515]},"axis":null},"text":{"field":"t"}}},
{"data":{"values":[{"s":2749.8},{"s":2760},{"s":2770.2}]},"mark":{"type":"point","shape":"M-0.5,-1L0.5,0L-0.5,1","size":36,"filled":false,"color":"#333","opacity":1,"strokeWidth":1.2},"encoding":{"x":{"field":"s","type":"quantitative","scale":{"domain":[2500,3000],"range":[57,400]},"axis":null},"y":{"datum":3.1,"type":"quantitative","scale":{"domain":[0,10],"range":[565,515]},"axis":null}}},
{"data":{"values":[{"s":2491,"e":3029}]},"mark":{"type":"rule","color":"#3a4f9c","strokeWidth":1},"encoding":{"x":{"field":"s","type":"quantitative","scale":{"domain":[2500,3000],"range":[57,400]},"axis":null},"x2":{"field":"e"},"y":{"datum":0,"type":"quantitative","scale":{"domain":[-1000,2500],"range":[630,571]},"axis":{"orient":"left","offset":-51,"values":[2500,-1000],"format":"d","ticks":false,"tickSize":0,"labelPadding":3,"labelFontSize":11,"labelColor":"#333","domainColor":"#555","title":"Type II","titleAngle":0,"titleAlign":"right","titleBaseline":"middle","titleX":-11,"titleY":600,"titleFontSize":11.5,"titleColor":"#333"}}}},
{"data":{"name":"b3"},"mark":{"type":"rect"},"encoding":{"x":{"field":"p","type":"quantitative","scale":{"domain":[2500,3000],"range":[57,400]},"axis":null},"x2":{"field":"e"},"y":{"field":"v","type":"quantitative","scale":{"domain":[-1000,2500],"range":[630,571]},"axis":null},"y2":{"datum":0},"color":{"field":"c","type":"nominal","scale":{"domain":["n","p"],"range":["#2f4b9c","#f4817c"]},"legend":null}}},

{"data":{"values":[{"s":251571,"t":"C"}]},"mark":{"type":"text","fontSize":17,"fontWeight":"bold","color":"#111"},"encoding":{"x":{"field":"s","type":"quantitative","scale":{"domain":[252000,253500],"range":[506,765]},"axis":null},"y":{"datum":8,"type":"quantitative","scale":{"domain":[0,10],"range":[250,200]},"axis":null},"text":{"field":"t"}}},
{"data":{"values":[{"s":252000,"e":253500}]},"mark":{"type":"rule","color":"#9a9a9a","strokeWidth":1.5},"encoding":{"x":{"field":"s","type":"quantitative","scale":{"domain":[252000,253500],"range":[506,765]},"axis":null},"x2":{"field":"e"},"y":{"datum":7.6,"type":"quantitative","scale":{"domain":[0,10],"range":[250,200]},"axis":null}}},
{"data":{"values":[{"s":252000},{"s":253500}]},"mark":{"type":"rule","color":"#9a9a9a","strokeWidth":1.2},"encoding":{"x":{"field":"s","type":"quantitative","scale":{"domain":[252000,253500],"range":[506,765]},"axis":null},"y":{"datum":8.2,"type":"quantitative","scale":{"domain":[0,10],"range":[250,200]},"axis":null},"y2":{"datum":7.0}}},
{"data":{"values":[{"s":252127,"t":"252,000"},{"s":253387,"t":"253,500"}]},"mark":{"type":"text","fontSize":11,"color":"#333"},"encoding":{"x":{"field":"s","type":"quantitative","scale":{"domain":[252000,253500],"range":[506,765]},"axis":null},"y":{"datum":8.6,"type":"quantitative","scale":{"domain":[0,10],"range":[250,200]},"axis":null},"text":{"field":"t"}}},
{"data":{"values":[{"s":251936,"t":"chr"}]},"mark":{"type":"text","fontSize":11,"color":"#333"},"encoding":{"x":{"field":"s","type":"quantitative","scale":{"domain":[252000,253500],"range":[506,765]},"axis":null},"y":{"datum":7.6,"type":"quantitative","scale":{"domain":[0,10],"range":[250,200]},"axis":null},"text":{"field":"t"}}},
{"data":{"name":"cGenes"},"mark":{"type":"rect","color":"#c8c8c8"},"encoding":{"x":{"field":"p","type":"quantitative","scale":{"domain":[252000,253500],"range":[506,765]},"axis":null},"x2":{"field":"e"},"y":{"datum":2.8,"type":"quantitative","scale":{"domain":[0,10],"range":[250,200]},"axis":null},"y2":{"datum":0.8}}},
{"data":{"name":"cGenes"},"transform":[{"filter":"datum.strand === '+'"}],"mark":{"type":"point","shape":"M0,-1L1.6,0L0,1Z","size":100,"filled":true,"color":"#d2d2d2","opacity":1,"strokeWidth":0},"encoding":{"x":{"field":"e","type":"quantitative","scale":{"domain":[252000,253500],"range":[506,765]},"axis":null},"y":{"datum":1.8,"type":"quantitative","scale":{"domain":[0,10],"range":[250,200]},"axis":null}}},
{"data":{"values":[{"s":252417,"t":"lactate dehydrogenase (RS06510)"}]},"mark":{"type":"text","fontSize":11,"color":"#333","align":"left"},"encoding":{"x":{"field":"s","type":"quantitative","scale":{"domain":[252000,253500],"range":[506,765]},"axis":null},"y":{"datum":1.8,"type":"quantitative","scale":{"domain":[0,10],"range":[250,200]},"axis":null},"text":{"field":"t"}}},
{"data":{"values":[{"s":251867},{"s":251994},{"s":252122}]},"mark":{"type":"point","shape":"M0.5,-1L-0.5,0L0.5,1","size":49,"filled":false,"color":"#333","opacity":1,"strokeWidth":1.2},"encoding":{"x":{"field":"s","type":"quantitative","scale":{"domain":[252000,253500],"range":[506,765]},"axis":null},"y":{"datum":1.8,"type":"quantitative","scale":{"domain":[0,10],"range":[250,200]},"axis":null}}},
{"data":{"values":[{"s":252411}]},"mark":{"type":"rule","color":"#c8c8c8","strokeWidth":1,"strokeDash":[4,3]},"encoding":{"x":{"field":"s","type":"quantitative","scale":{"domain":[252000,253500],"range":[506,765]},"axis":null},"y":{"datum":0,"type":"quantitative","scale":{"domain":[0,10],"range":[250,200]},"axis":null},"y2":{"datum":-31}}},
{"data":{"values":[{"s":251809,"e":253500}]},"mark":{"type":"rule","color":"#b5b5b5","strokeWidth":1},"encoding":{"x":{"field":"s","type":"quantitative","scale":{"domain":[252000,253500],"range":[506,765]},"axis":null},"x2":{"field":"e"},"y":{"datum":0,"type":"quantitative","scale":{"domain":[-103,326],"range":[318,259]},"axis":{"orient":"left","offset":-473,"values":[326,-103],"format":"d","ticks":false,"tickSize":0,"labelPadding":3,"labelFontSize":11,"labelColor":"#333","domainColor":"#555","title":"WT","titleAngle":0,"titleAlign":"right","titleBaseline":"middle","titleX":-10,"titleY":289,"titleFontSize":11.5,"titleColor":"#333"}}}},
{"data":{"name":"cWT"},"mark":{"type":"rect"},"encoding":{"x":{"field":"p","type":"quantitative","scale":{"domain":[252000,253500],"range":[506,765]},"axis":null},"x2":{"field":"e"},"y":{"field":"v","type":"quantitative","scale":{"domain":[-103,326],"range":[318,259]},"axis":null},"y2":{"datum":0},"color":{"field":"c","type":"nominal","scale":{"domain":["n","p"],"range":["#2d47a0","#e8809e"]},"legend":null}}},
{"data":{"values":[{"s":251809,"e":253500}]},"mark":{"type":"rule","color":"#b5b5b5","strokeWidth":1},"encoding":{"x":{"field":"s","type":"quantitative","scale":{"domain":[252000,253500],"range":[506,765]},"axis":null},"x2":{"field":"e"},"y":{"datum":0,"type":"quantitative","scale":{"domain":[-151,178],"range":[405,342]},"axis":{"orient":"left","offset":-473,"values":[178,-151],"format":"d","ticks":false,"tickSize":0,"labelPadding":3,"labelFontSize":11,"labelColor":"#333","domainColor":"#555","title":"RNAseq","titleAngle":0,"titleAlign":"right","titleBaseline":"middle","titleX":-8,"titleY":377,"titleFontSize":10.5,"titleColor":"#333"}}}},
{"data":{"name":"cOra"},"mark":{"type":"area","color":"#fbc87c"},"encoding":{"x":{"field":"p","type":"quantitative","scale":{"domain":[252000,253500],"range":[506,765]},"axis":null},"y":{"field":"v","type":"quantitative","scale":{"domain":[-151,178],"range":[405,342]},"axis":null,"stack":null},"y2":{"datum":0}}},
{"data":{"name":"cPur"},"mark":{"type":"area","color":"#5c2b88"},"encoding":{"x":{"field":"p","type":"quantitative","scale":{"domain":[252000,253500],"range":[506,765]},"axis":null},"y":{"field":"v","type":"quantitative","scale":{"domain":[-151,178],"range":[405,342]},"axis":null,"stack":null},"y2":{"datum":0}}},

{"data":{"values":[{"a":10,"b":50}]},"mark":{"type":"rect","color":"#eef5e2"},"encoding":{"x":{"field":"a","type":"quantitative","scale":{"domain":[-100,300],"range":[64,391]},"axis":null},"x2":{"field":"b"},"y":{"datum":0.016,"type":"quantitative","scale":{"domain":[0.006,0.016],"range":[926,668]},"axis":null},"y2":{"datum":0.006}}},
{"data":{"values":[{"a":0}]},"mark":{"type":"rule","color":"#a8a8a8","strokeWidth":1.5,"strokeDash":[7,5]},"encoding":{"x":{"field":"a","type":"quantitative","scale":{"domain":[-100,300],"range":[64,391]},"axis":null},"y":{"datum":0.016,"type":"quantitative","scale":{"domain":[0.006,0.016],"range":[926,668]},"axis":null},"y2":{"datum":0.006}}},
{"data":{"name":"dOr"},"mark":{"type":"line","color":"#e8772e","strokeWidth":2,"strokeDash":[2,1.2]},"encoding":{"x":{"field":"p","type":"quantitative","scale":{"domain":[-100,300],"range":[64,391]},"axis":{"orient":"bottom","offset":-61,"values":[-100,0,100,200,300],"tickSize":5,"labelPadding":6,"labelFontSize":12.5,"labelColor":"#222","domainColor":"#777","tickColor":"#777","title":null}},"y":{"field":"v","type":"quantitative","scale":{"domain":[0.006,0.016],"range":[926,668]},"axis":{"orient":"left","offset":-64,"values":[0.006,0.007,0.008,0.009,0.01,0.011,0.012,0.013,0.014,0.015,0.016],"format":"~g","tickSize":5,"labelPadding":4,"labelFontSize":12.5,"labelColor":"#e07a3c","domainColor":"#777","tickColor":"#777","title":"Cumulative normalized RNAseq depth","titleColor":"#e8894f","titleFontSize":12,"titleAngle":-90,"titleX":-51,"titleY":800,"titleAlign":"center","titleBaseline":"middle"}}}},
{"data":{"name":"dBl"},"mark":{"type":"line","color":"#2d3f96","strokeWidth":2,"strokeDash":[2,1.2]},"encoding":{"x":{"field":"p","type":"quantitative","scale":{"domain":[-100,300],"range":[64,391]},"axis":null},"y":{"field":"v","type":"quantitative","scale":{"domain":[0.3,0.9],"range":[926,668]},"axis":{"orient":"right","offset":-380,"values":[0.3,0.4,0.5,0.6,0.7,0.8,0.9],"format":"~g","tickSize":5,"labelPadding":4,"labelFontSize":12.5,"labelColor":"#5a6cb0","domainColor":"#777","tickColor":"#777","title":"Cumulative normalized spacer depth (unique, n=62,668)","titleColor":"#6a7bbd","titleFontSize":11.5,"titleAngle":-90,"titleX":33,"titleY":803,"titleAlign":"center","titleBaseline":"middle"}}}},
{"data":{"values":[{"a":0,"b":300}]},"mark":{"type":"rect","color":"#bdbdbd"},"encoding":{"x":{"field":"a","type":"quantitative","scale":{"domain":[-100,300],"range":[64,391]},"axis":null},"x2":{"field":"b"},"y":{"datum":7,"type":"quantitative","scale":{"domain":[0,10],"range":[970,940]},"axis":null},"y2":{"datum":2}}},
{"data":{"values":[{"a":2,"t":"ATG"}]},"mark":{"type":"text","fontSize":13,"color":"#333","align":"left"},"encoding":{"x":{"field":"a","type":"quantitative","scale":{"domain":[-100,300],"range":[64,391]},"axis":null},"y":{"datum":4.5,"type":"quantitative","scale":{"domain":[0,10],"range":[970,940]},"axis":null},"text":{"field":"t"}}},
{"data":{"values":[{"a":56.6},{"a":109},{"a":162},{"a":215.6},{"a":268}]},"mark":{"type":"point","shape":"M-0.55,-1L0.55,0L-0.55,1","size":144,"filled":false,"color":"#111","opacity":1,"strokeWidth":2},"encoding":{"x":{"field":"a","type":"quantitative","scale":{"domain":[-100,300],"range":[64,391]},"axis":null},"y":{"datum":4.5,"type":"quantitative","scale":{"domain":[0,10],"range":[970,940]},"axis":null}}},
{"data":{"values":[{"a":10,"t":"10"},{"a":50,"t":"50"}]},"mark":{"type":"text","fontSize":12,"color":"#7bb548"},"encoding":{"x":{"field":"a","type":"quantitative","scale":{"domain":[-100,300],"range":[64,391]},"axis":null},"y":{"datum":13,"type":"quantitative","scale":{"domain":[0,10],"range":[970,940]},"axis":null},"text":{"field":"t"}}},
{"data":{"values":[{"a":-169.7,"t":"D"}]},"mark":{"type":"text","fontSize":17,"fontWeight":"bold","color":"#111"},"encoding":{"x":{"field":"a","type":"quantitative","scale":{"domain":[-100,300],"range":[64,391]},"axis":null},"y":{"datum":0.016116,"type":"quantitative","scale":{"domain":[0.006,0.016],"range":[926,668]},"axis":null},"text":{"field":"t"}}},

{"data":{"name":"eBlack"},"mark":{"type":"line","color":"#111","strokeWidth":1.2},"encoding":{"x":{"field":"orf","type":"quantitative","scale":{"domain":[0,2000],"range":[480,742]},"axis":{"orient":"bottom","offset":-321,"values":[0,500,1000,1500,2000],"format":"d","labelFlush":true,"tickSize":4,"labelPadding":1,"labelFontSize":11.5,"domainColor":"#333","tickColor":"#333","title":"ORF, highest to lowest expression","titleFontSize":11.5,"titleX":611,"titleY":22,"titleAlign":"center","titleBaseline":"middle"}},"y":{"field":"pct","type":"quantitative","scale":{"domain":[0,100],"range":[667,442]},"axis":{"orient":"left","offset":-480,"values":[0,20,40,60,80,100],"format":"d","tickSize":4,"labelPadding":2,"labelFontSize":11.5,"domainColor":"#333","tickColor":"#333","title":"Cumulative percent of type III spacers","titleFontSize":11,"titleAngle":-90,"titleX":-27,"titleY":554,"titleAlign":"center","titleBaseline":"middle"}}}},
{"data":{"name":"eRed"},"mark":{"type":"line","color":"#e3262d","strokeWidth":1.5},"encoding":{"x":{"field":"gw","type":"quantitative","scale":{"domain":[0,20000],"range":[480,742]},"axis":{"orient":"top","offset":-441,"values":[0,5000,10000,15000,20000],"format":"d","labelFlush":true,"tickSize":4,"labelPadding":1,"labelFontSize":11.5,"labelColor":"#e3262d","domainColor":"#333","tickColor":"#333","title":"Genome window, highest to lowest expression","titleColor":"#e3262d","titleFontSize":11.5,"titleX":611,"titleY":-22,"titleAlign":"center","titleBaseline":"middle"}},"y":{"field":"pct","type":"quantitative","scale":{"domain":[0,100],"range":[667,442]},"axis":null}}},
{"data":{"values":[{"a":-320.6,"t":"E"}]},"mark":{"type":"text","fontSize":17,"fontWeight":"bold","color":"#111"},"encoding":{"x":{"field":"a","type":"quantitative","scale":{"domain":[0,2000],"range":[480,742]},"axis":null},"y":{"datum":106.7,"type":"quantitative","scale":{"domain":[0,100],"range":[667,442]},"axis":null},"text":{"field":"t"}}},
{"data":{"values":[{"a":91.6,"t":"Type III (WT)"}]},"mark":{"type":"text","fontSize":11.5,"color":"#222","align":"left"},"encoding":{"x":{"field":"a","type":"quantitative","scale":{"domain":[0,2000],"range":[480,742]},"axis":null},"y":{"datum":92,"type":"quantitative","scale":{"domain":[0,100],"range":[667,442]},"axis":null},"text":{"field":"t"}}},

{"data":{"name":"fBlack"},"mark":{"type":"line","color":"#111","strokeWidth":1.2},"encoding":{"x":{"field":"orf","type":"quantitative","scale":{"domain":[0,2000],"range":[485,745]},"axis":{"orient":"bottom","offset":-29,"values":[0,500,1000,1500,2000],"format":"d","labelFlush":true,"tickSize":3,"labelPadding":0,"labelFontSize":11,"domainColor":"#333","tickColor":"#333","title":"ORF, highest to lowest expression","titleFontSize":11,"titleX":616,"titleY":23,"titleAlign":"center","titleBaseline":"middle"}},"y":{"field":"pct","type":"quantitative","scale":{"domain":[0,100],"range":[958,733]},"axis":{"orient":"left","offset":-485,"values":[0,20,40,60,80,100],"format":"d","tickSize":4,"labelPadding":2,"labelFontSize":11.5,"domainColor":"#333","tickColor":"#333","title":"Cumulative percent of type II spacers","titleFontSize":11,"titleAngle":-90,"titleX":-27,"titleY":845,"titleAlign":"center","titleBaseline":"middle"}}}},
{"data":{"name":"fRed"},"mark":{"type":"line","color":"#e3262d","strokeWidth":1.5},"encoding":{"x":{"field":"gw","type":"quantitative","scale":{"domain":[0,20000],"range":[485,745]},"axis":{"orient":"top","offset":-733,"values":[0,5000,10000,15000,20000],"format":"d","labelFlush":true,"tickSize":4,"labelPadding":1,"labelFontSize":11.5,"labelColor":"#e3262d","domainColor":"#333","tickColor":"#333","title":"Genome window, highest to lowest expression","titleColor":"#e3262d","titleFontSize":11.5,"titleX":616,"titleY":-22,"titleAlign":"center","titleBaseline":"middle"}},"y":{"field":"pct","type":"quantitative","scale":{"domain":[0,100],"range":[958,733]},"axis":null}}},
{"data":{"values":[{"a":-261.5,"t":"F"}]},"mark":{"type":"text","fontSize":17,"fontWeight":"bold","color":"#111"},"encoding":{"x":{"field":"a","type":"quantitative","scale":{"domain":[0,2000],"range":[485,745]},"axis":null},"y":{"datum":114.2,"type":"quantitative","scale":{"domain":[0,100],"range":[958,733]},"axis":null},"text":{"field":"t"}}},
{"data":{"values":[{"a":100,"t":"Type II"}]},"mark":{"type":"text","fontSize":11.5,"color":"#222","align":"left"},"encoding":{"x":{"field":"a","type":"quantitative","scale":{"domain":[0,2000],"range":[485,745]},"axis":null},"y":{"datum":90.2,"type":"quantitative","scale":{"domain":[0,100],"range":[958,733]},"axis":null},"text":{"field":"t"}}}
]
}
